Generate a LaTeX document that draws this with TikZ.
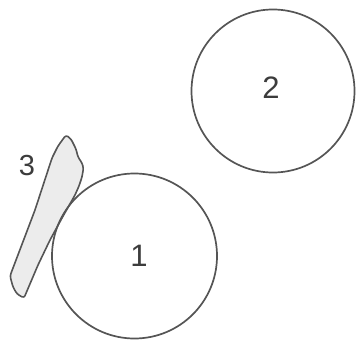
\documentclass[tikz,border=0pt]{standalone}
\usepackage{fontspec}
\setmainfont{Liberation Sans}
\definecolor{linec}{HTML}{555555}
\definecolor{slivfill}{HTML}{ECECEC}
\definecolor{txtc}{HTML}{3C3C3C}
\tikzset{
  ring/.style={circle, draw=linec, line width=1.7pt, inner sep=0pt},
  bignum/.style={text=txtc, font=\fontsize{31}{31}\selectfont, inner sep=0pt},
  smallnum/.style={text=txtc, font=\fontsize{29}{29}\selectfont, inner sep=0pt},
  sliver/.style={draw=linec, fill=slivfill, line width=1.6pt, rounded corners=2.5pt, line join=round}
}
\begin{document}
\begin{tikzpicture}[x=1pt,y=-1pt]
\useasboundingbox (0,0) rectangle (358,342);
% sliver 3
\draw[sliver] (66,135) -- (71,139) -- (76,149) -- (78,157) -- (82,163) -- (83.5,168)
  -- (82,177) -- (79,186) -- (75,195) -- (62,218) -- (50,240) -- (38,265) -- (24,298)
  -- (17,294) -- (13,287) -- (10,276) -- (13,268) -- (35,210) -- (52,158) -- (58,146) -- cycle;
\node[ring, minimum size=165pt] (c1) at (134.5,256) {};
\node[ring, minimum size=163pt] (c2) at (273,91) {};
\node[bignum] (l1) at (139,256) {1};
\node[bignum] (l2) at (271,88) {2};
\node[smallnum] (l3) at (27,166) {3};
\end{tikzpicture}
\end{document}
